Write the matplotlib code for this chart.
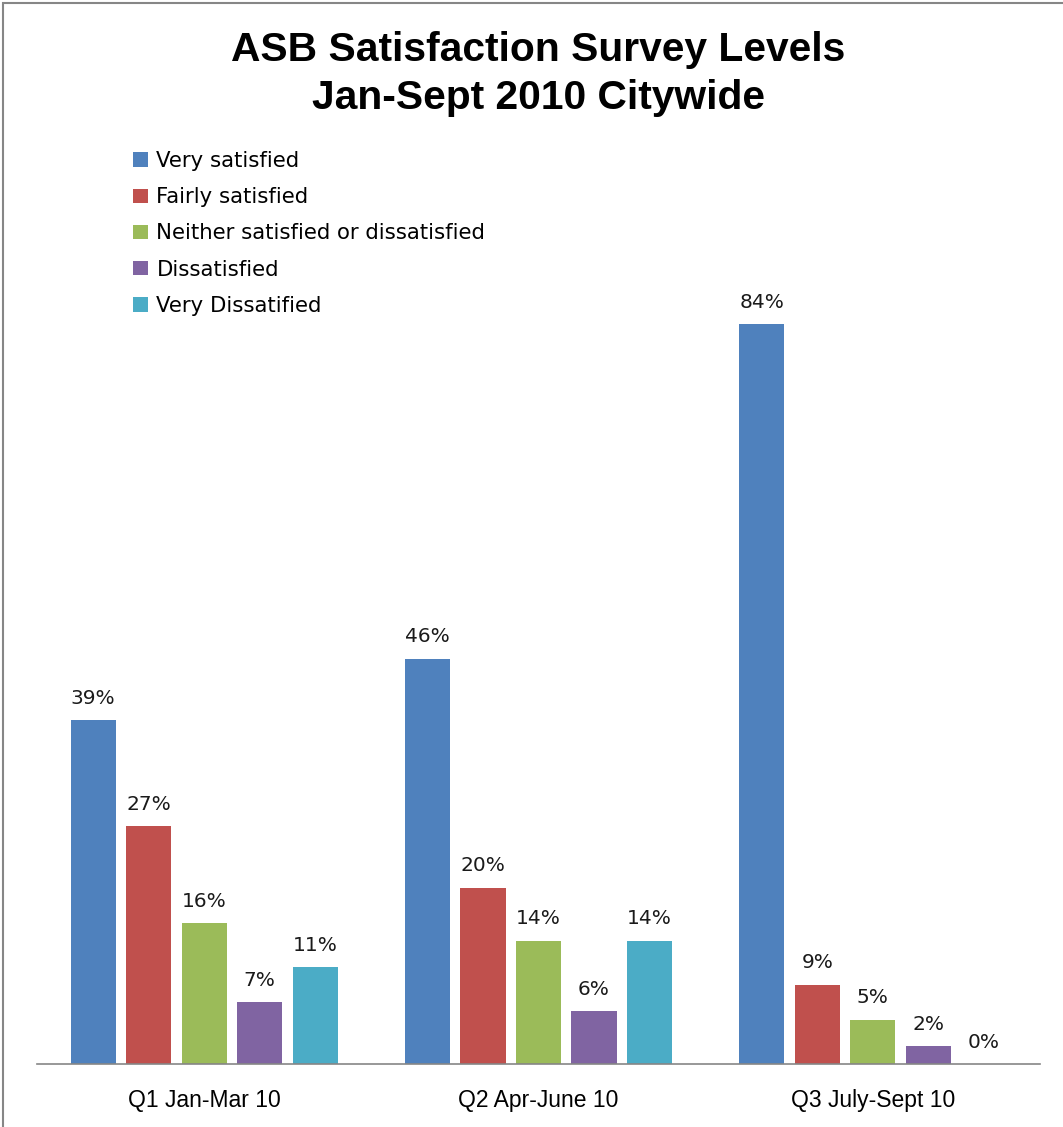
import matplotlib
matplotlib.use("Agg")
import matplotlib.pyplot as plt
import numpy as np
from matplotlib.patches import Patch, Rectangle

# Data
quarters = ["Q1 Jan-Mar 10", "Q2 Apr-June 10", "Q3 July-Sept 10"]
series = ["Very satisfied", "Fairly satisfied", "Neither satisfied or dissatisfied",
          "Dissatisfied", "Very Dissatified"]
very_satisfied = [39, 46, 84]
fairly_satisfied = [27, 20, 9]
neither = [16, 14, 5]
dissatisfied = [7, 6, 2]
very_dissatisfied = [11, 14, 0]
colors = ["#4F81BD", "#C0504D", "#9BBB59", "#8064A2", "#4BACC6"]

values = [very_satisfied, fairly_satisfied, neither, dissatisfied, very_dissatisfied]

W, H, dpi = 1063, 1127, 100
fig = plt.figure(figsize=(W / dpi, H / dpi), dpi=dpi)
narrow = ["Liberation Sans", "DejaVu Sans"]

# gray frame (left and top edges visible)
fig.patches.append(Rectangle((3 / W, -0.05), 1.2, 1 - 3 / H + 0.05, transform=fig.transFigure,
                             fill=False, edgecolor="#868686", linewidth=1.5))

ax = fig.add_axes([37 / W, (H - 1064) / H, (1040 - 37) / W, (1064 - 140) / H])

x = np.arange(len(quarters))
step = 0.166
width = 0.135
for i, (vals, col) in enumerate(zip(values, colors)):
    bars = ax.bar(x + (i - 2) * step, vals, width, color=col, label=series[i])
    ax.bar_label(bars, labels=[f"{v}%" for v in vals], padding=9,
                 fontsize=14.5, color="#1a1a1a", family="DejaVu Sans")

ax.set_xlim(-0.5, 2.5)
ax.set_ylim(0, 104.9)
ax.set_yticks([])
ax.set_xticks(x)
ax.set_xticklabels(quarters, family=narrow, fontsize=16.5)
ax.tick_params(axis="x", length=0, pad=18)
for s in ["top", "right", "left"]:
    ax.spines[s].set_visible(False)
ax.spines["bottom"].set_color("#868686")
ax.spines["bottom"].set_linewidth(1.2)

handles = [Patch(facecolor=c) for c in colors]
fig.legend(handles, series, loc="upper left", bbox_to_anchor=(114 / W, 1 - 132 / H),
           frameon=False, prop={"family": "DejaVu Sans", "size": 15.3},
           handlelength=0.68, handleheight=0.68, handletextpad=0.42, labelspacing=0.76)

fig.text(538 / W, 1 - 50 / H, "ASB Satisfaction Survey Levels", ha="center", va="center",
         fontsize=29.3, fontweight="bold", family=narrow)
fig.text(538 / W, 1 - 98 / H, "Jan-Sept 2010 Citywide", ha="center", va="center",
         fontsize=29.3, fontweight="bold", family=narrow)

fig.savefig("out.png", dpi=dpi)
